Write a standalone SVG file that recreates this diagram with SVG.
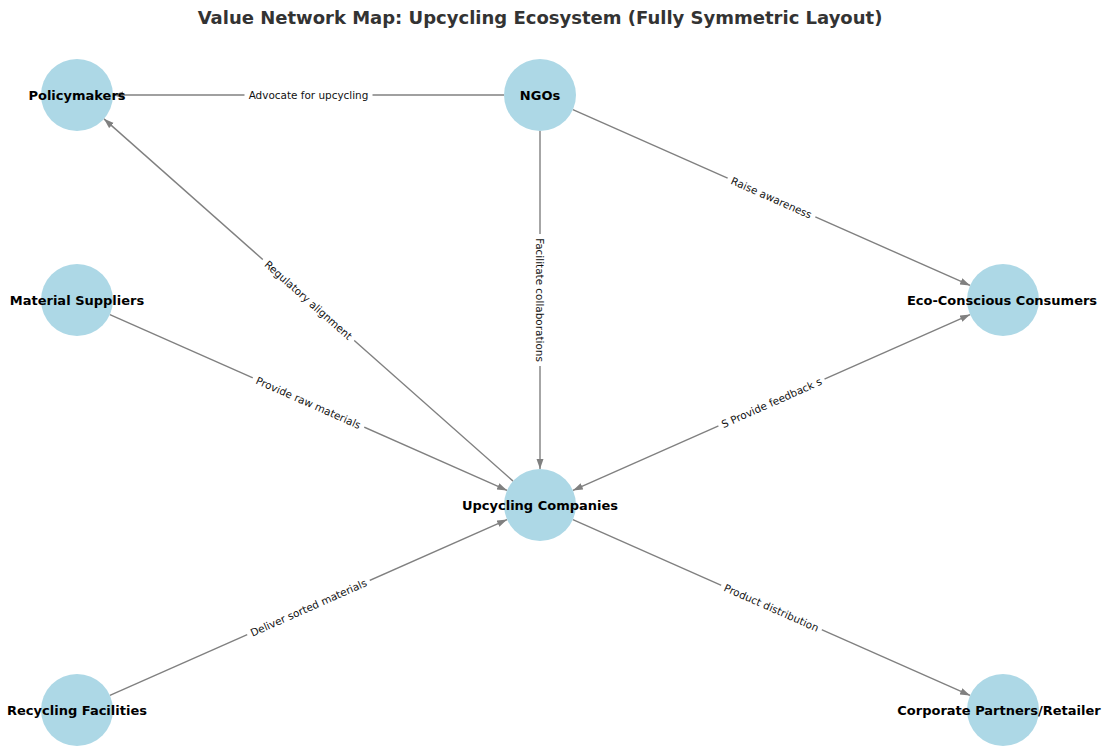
<svg xmlns="http://www.w3.org/2000/svg" width="1103" height="747" viewBox="0 0 1103 747">
<style>
.node circle{fill:#ADD8E6;}
.node text{font-family:"DejaVu Sans",sans-serif;font-weight:bold;font-size:13px;fill:#000;text-anchor:middle;dominant-baseline:central;}
.edge{stroke:#808080;stroke-width:1.4;fill:none;marker-end:url(#ah);}
.lbl text{font-family:"DejaVu Sans",sans-serif;font-size:10.45px;fill:#111;text-anchor:middle;dominant-baseline:central;}
.lbl rect{fill:#fff;}
.title{font-family:"DejaVu Sans",sans-serif;font-weight:bold;font-size:18px;fill:#333;text-anchor:middle;}
</style>
<defs>
<marker id="ah" markerUnits="userSpaceOnUse" markerWidth="11" markerHeight="8" refX="10" refY="3.5" orient="auto-start-reverse">
<path d="M0,0 L10,3.5 L0,7 z" fill="#808080"/>
</marker>
</defs>
<rect width="1103" height="747" fill="#fff"/>
<text class="title" x="540" y="24">Value Network Map: Upcycling Ecosystem (Fully Symmetric Layout)</text>
<g id="connectors">
<line class="edge" x1="504" y1="95" x2="113" y2="95"/>
<line class="edge" x1="572.9" y1="109.6" x2="970.1" y2="285.4"/>
<line class="edge" x1="540" y1="131" x2="540" y2="469"/>
<line class="edge" x1="513.05" y1="481.13" x2="103.95" y2="118.87"/>
<line class="edge" x1="109.9" y1="314.6" x2="507.1" y2="490.4"/>
<line class="edge" x1="109.9" y1="695.4" x2="507.1" y2="519.6"/>
<line class="edge" x1="572.9" y1="519.6" x2="970.1" y2="695.4"/>
<line class="edge" x1="572.9" y1="490.4" x2="970.1" y2="314.6" style="marker-start:url(#ah)"/>
<g class="lbl" transform="translate(308.5,95)"><rect x="-64" y="-7" width="128" height="14"/><text>Advocate for upcycling</text></g>
<g class="lbl" transform="translate(771.5,197.5) rotate(23.88)"><rect x="-48" y="-7" width="96" height="14"/><text>Raise awareness</text></g>
<g class="lbl" transform="translate(540,300) rotate(90)"><rect x="-66" y="-7" width="132" height="14"/><text>Facilitate collaborations</text></g>
<g class="lbl" transform="translate(308.5,300) rotate(41.53)"><rect x="-61" y="-7" width="122" height="14"/><text>Regulatory alignment</text></g>
<g class="lbl" transform="translate(308.5,402.5) rotate(23.88)"><rect x="-61" y="-7" width="122" height="14"/><text>Provide raw materials</text></g>
<g class="lbl" transform="translate(308.5,607.5) rotate(-23.88)"><rect x="-67" y="-7" width="134" height="14"/><text>Deliver sorted materials</text></g>
<g class="lbl" transform="translate(771.5,607.5) rotate(23.88)"><rect x="-55" y="-7" width="110" height="14"/><text>Product distribution</text></g>
<g class="lbl" transform="translate(771.5,402.5) rotate(-23.88)"><rect x="-58" y="-7" width="116" height="14"/><text>S Provide feedback s</text></g>
</g>
<g id="n-policymakers" class="node"><circle cx="77" cy="95" r="36"/><text x="77" y="95">Policymakers</text></g>
<g id="n-ngos" class="node"><circle cx="540" cy="95" r="36"/><text x="540" y="95">NGOs</text></g>
<g id="n-suppliers" class="node"><circle cx="77" cy="300" r="36"/><text x="77" y="300">Material Suppliers</text></g>
<g id="n-consumers" class="node"><circle cx="1003" cy="300" r="36"/><text x="1002" y="300">Eco-Conscious Consumers</text></g>
<g id="n-upcycling" class="node"><circle cx="540" cy="505" r="36"/><text x="540" y="505">Upcycling Companies</text></g>
<g id="n-recycling" class="node"><circle cx="77" cy="710" r="36"/><text x="77" y="710">Recycling Facilities</text></g>
<g id="n-corporate" class="node"><circle cx="1003" cy="710" r="36"/><text x="999" y="710">Corporate Partners/Retailer</text></g>
</svg>
